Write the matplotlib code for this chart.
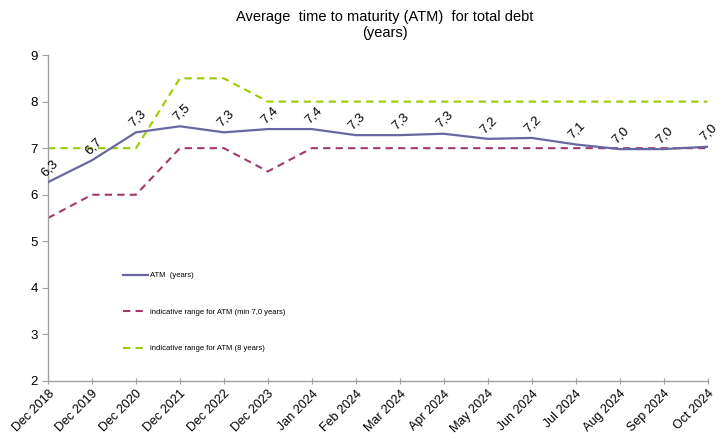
import matplotlib

matplotlib.use("Agg")
import matplotlib.pyplot as plt

plt.rcParams["font.family"] = ["Liberation Sans", "DejaVu Sans"]

# ── Data ───────────────────────────────────────────────
periods = [
    "Dec 2018", "Dec 2019", "Dec 2020", "Dec 2021", "Dec 2022", "Dec 2023",
    "Jan 2024", "Feb 2024", "Mar 2024", "Apr 2024", "May 2024", "Jun 2024",
    "Jul 2024", "Aug 2024", "Sep 2024", "Oct 2024",
]
atm = [6.27, 6.74, 7.34, 7.47, 7.34, 7.41, 7.41, 7.28, 7.28, 7.31, 7.20, 7.22,
       7.08, 6.98, 6.98, 7.03]
atm_labels = ["6,3", "6,7", "7,3", "7,5", "7,3", "7,4", "7,4", "7,3", "7,3", "7,3",
              "7,2", "7,2", "7,1", "7,0", "7,0", "7,0"]
range_min = [5.5, 6.0, 6.0, 7.0, 7.0, 6.5, 7.0, 7.0, 7.0, 7.0, 7.0, 7.0, 7.0, 7.0,
             7.0, 7.0]
range_max = [7.0, 7.0, 7.0, 8.5, 8.5, 8.0, 8.0, 8.0, 8.0, 8.0, 8.0, 8.0, 8.0, 8.0,
             8.0, 8.0]

ATM_COLOR = "#6767A1"
MIN_COLOR = "#A3386E"
MAX_COLOR = "#99CC00"
AXIS_GREY = "#A0A0A0"

# ── Plot ───────────────────────────────────────────────
fig = plt.figure(figsize=(7.22, 4.44), dpi=100)
ax = fig.add_axes([0.0665, 0.142, 0.9135, 0.734])

x = list(range(len(periods)))
ax.plot(x, atm, color=ATM_COLOR, linewidth=1.6, label="ATM  (years)", zorder=3)
ax.plot(x, range_min, color=MIN_COLOR, linewidth=1.5, linestyle=(0, (3.5, 2.5)),
        label="indicative range for ATM (min 7,0 years)", zorder=2)
ax.plot(x, range_max, color=MAX_COLOR, linewidth=1.5, linestyle=(0, (3.5, 2.5)),
        label="indicative range for ATM (8 years)", zorder=2)

# Data labels (rotated, above points)
for xi, v, s in zip(x, atm, atm_labels):
    ax.annotate(s, (xi, v), textcoords="offset points", xytext=(4, 7),
                ha="center", va="bottom", rotation=45, fontsize=9.5,
                color="black", rotation_mode="anchor")

ax.set_xlim(0, len(periods) - 1)
ax.set_ylim(2, 9)
ax.set_yticks(range(2, 10))
ax.set_xticks(x)
ax.set_xticklabels(periods, rotation=45, ha="right", rotation_mode="anchor",
                   fontsize=9)
ax.tick_params(axis="y", labelsize=9.5, length=4, color=AXIS_GREY)
ax.tick_params(axis="x", length=4, color=AXIS_GREY, direction="inout", pad=3)

for side in ["top", "right"]:
    ax.spines[side].set_visible(False)
for side in ["left", "bottom"]:
    ax.spines[side].set_color(AXIS_GREY)
    ax.spines[side].set_linewidth(1.0)

fig.text(0.533, 0.943, "Average  time to maturity (ATM)  for total debt\n(years)",
         ha="center", va="center", fontsize=10.5, linespacing=1.2)

leg = ax.legend(loc="upper left", bbox_to_anchor=(0.103, 0.355), frameon=False,
                fontsize=5.5, labelspacing=3.8, handlelength=3.3,
                handletextpad=0.2)

fig.savefig("out.png", dpi=100, facecolor="white")
plt.close()
